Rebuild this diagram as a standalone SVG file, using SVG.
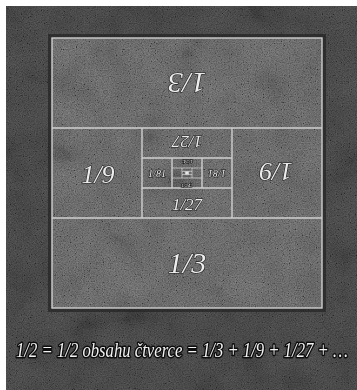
<svg xmlns="http://www.w3.org/2000/svg" width="357" height="390" viewBox="0 0 357 390">
<defs>
<filter id="grain" x="0" y="0" width="100%" height="100%">
<feTurbulence type="fractalNoise" baseFrequency="0.85" numOctaves="2" seed="7" result="n"/>
<feColorMatrix in="n" type="matrix" values="0.6 0.6 0.6 0 -0.55  0.6 0.6 0.6 0 -0.55  0.6 0.6 0.6 0 -0.55  0 0 0 0 1"/>
</filter>
<filter id="blot" x="0" y="0" width="100%" height="100%">
<feTurbulence type="fractalNoise" baseFrequency="0.03" numOctaves="3" seed="2" result="n"/>
<feColorMatrix in="n" type="matrix" values="0.6 0.6 0.6 0 -0.55  0.6 0.6 0.6 0 -0.55  0.6 0.6 0.6 0 -0.55  0 0 0 0 1"/>
</filter>
<style>
.ln{stroke:#cfcfcf;stroke-width:1.4;fill:none}
.lt{stroke:#cfcfcf;stroke-width:0.8;fill:none}
.lb{font-family:"Liberation Serif",serif;font-style:italic;fill:#ececec;text-anchor:middle;stroke:#1a1a1a;stroke-width:1.2;paint-order:stroke}
.eq{font-family:"Liberation Serif",serif;font-style:italic;fill:#f2f2f2;stroke:#0d0d0d;stroke-width:3;paint-order:stroke;stroke-linejoin:round}
</style>
</defs>
<rect x="0" y="0" width="357" height="390" fill="#ffffff"/>
<g id="background">
<rect x="6" y="6" width="351" height="384" fill="#404040"/>
<rect x="6" y="6" width="351" height="384" filter="url(#blot)" opacity="0.15" style="mix-blend-mode:overlay"/>
<rect x="6" y="6" width="351" height="384" filter="url(#grain)" opacity="0.45" style="mix-blend-mode:overlay"/>
</g>
<g id="square">
<rect x="48" y="34" width="278" height="278" fill="#262626" opacity="0.75"/>
<rect x="52" y="38" width="270" height="270" fill="#5e5e5e"/>
<rect x="52" y="38" width="270" height="270" filter="url(#blot)" opacity="0.12" style="mix-blend-mode:overlay"/>
<rect x="52" y="38" width="270" height="270" filter="url(#grain)" opacity="0.45" style="mix-blend-mode:overlay"/>
<rect x="185.33" y="171.33" width="3.34" height="3.34" fill="#e6e6e6"/>
</g>
<g id="connectors">
<rect class="ln" x="52" y="38" width="270" height="270"/>
<path class="ln" d="M52 128H322M52 218H322M142 128V218M232 128V218"/>
<path class="ln" d="M142 158H232M142 188H232M172 158V188M202 158V188"/>
<path class="lt" d="M172 168H202M172 178H202M182 168V178M192 168V178"/>
<path class="lt" d="M182 171.33H192M182 174.67H192M185.33 171.33V174.67M188.67 171.33V174.67"/>
</g>
<g id="labels-upright">
<g id="n-third-bottom"><text class="lb" x="187" y="273" font-size="30">1/3</text></g>
<g id="n-ninth-left"><text class="lb" x="98" y="183" font-size="26">1/9</text></g>
<g id="n-27-bottom"><text class="lb" x="187" y="210" font-size="17">1/27</text></g>
<g id="n-81-left"><text class="lb" x="157" y="176.5" font-size="10" stroke-width="0.6">1/81</text></g>
<g id="n-243-bottom"><text class="lb" x="187" y="186.5" font-size="5" stroke-width="0.3">1/243</text></g>
</g>
<g id="labels-rotated" transform="rotate(180 187 173)">
<g id="n-third-top"><text class="lb" x="187" y="273" font-size="30">1/3</text></g>
<g id="n-ninth-right"><text class="lb" x="98" y="183" font-size="26">1/9</text></g>
<g id="n-27-top"><text class="lb" x="187" y="210" font-size="17">1/27</text></g>
<g id="n-81-right"><text class="lb" x="157" y="176.5" font-size="10" stroke-width="0.6">1/81</text></g>
<g id="n-243-top"><text class="lb" x="187" y="186.5" font-size="5" stroke-width="0.3">1/243</text></g>
</g>
<g id="caption" transform="translate(16 357) scale(0.835 1)">
<text class="eq" x="0" y="0" font-size="20">1/2 = 1/2 obsahu čtverce = 1/3 + 1/9 + 1/27 + …</text>
</g>
</svg>
